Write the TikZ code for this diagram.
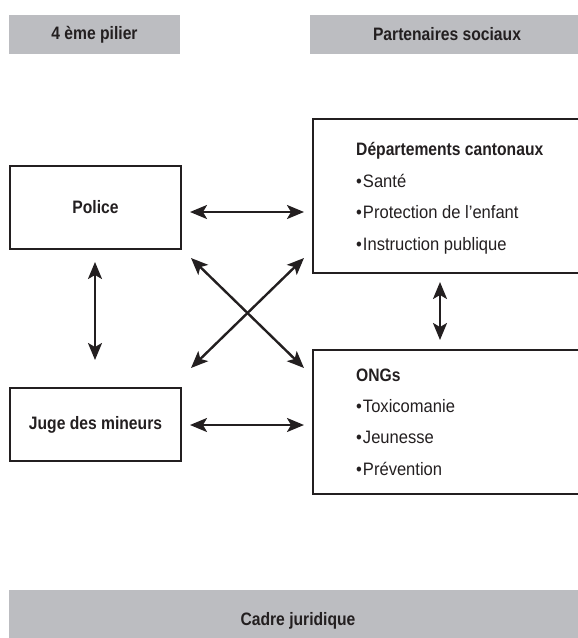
\documentclass[tikz,border=0pt]{standalone}
\usepackage{fontspec}
\setmainfont[FakeStretch=0.87]{Liberation Sans}
\newfontfamily\itemfont[FakeStretch=0.92]{Liberation Sans}
\usetikzlibrary{arrows.meta}
\definecolor{hdrgray}{RGB}{188,189,193}
\definecolor{ink}{RGB}{35,31,32}
\tikzset{
  hdr/.style={fill=hdrgray, draw=none, inner sep=0pt, text=ink, font=\fontsize{18}{20}\selectfont\bfseries},
  framebox/.style={draw=ink, line width=2.6pt, inner sep=0pt, text=ink, font=\fontsize{18}{20}\selectfont\bfseries},
  ttl/.style={anchor=base west, inner sep=0pt, text=ink, font=\fontsize{18}{20}\selectfont\bfseries},
  itm/.style={anchor=base west, inner sep=0pt, text=ink, font=\fontsize{18}{20}\selectfont\itemfont},
  tip/.style={Stealth[length=17pt,width=14pt,inset=4pt]},
  dbl/.style={draw=ink, line width=2.4pt, {Stealth[length=17pt,width=14pt,inset=4pt]}-{Stealth[length=17pt,width=14pt,inset=4pt]}}
}
\begin{document}
\begin{tikzpicture}[x=1pt,y=-1pt]
\useasboundingbox (0,0) rectangle (578,638);
% headers
\node[hdr, minimum width=171pt, minimum height=39pt] (pilier) at (94.5,34.5) {4 ème pilier};
\node[hdr, minimum width=274pt, minimum height=39pt] (partenaires) at (447,34.5) {Partenaires sociaux};
\node[hdr, minimum width=578pt, minimum height=62pt] (cadre) at (298,621) {Cadre juridique};
% left boxes
\node[framebox, minimum width=171pt, minimum height=83pt] (police) at (95.5,207.5) {Police};
\node[framebox, minimum width=171pt, minimum height=73pt] (juge) at (95.5,424.5) {Juge des mineurs};
% right boxes
\node[framebox, minimum width=307pt, minimum height=154pt] (dept) at (466.5,196) {};
\node[framebox, minimum width=307pt, minimum height=144pt] (ong) at (466.5,422) {};
% texts of right boxes
\node[ttl] (deptT) at (356,155) {Départements cantonaux};
\node[itm] (d1) at (356,187) {•\kern1pt Santé};
\node[itm] (d2) at (356,218) {•\kern1pt Protection de l’enfant};
\node[itm] (d3) at (356,250) {•\kern1pt Instruction publique};
\node[ttl] (ongT) at (356,381) {ONGs};
\node[itm] (o1) at (356,412) {•\kern1pt Toxicomanie};
\node[itm] (o2) at (356,443) {•\kern1pt Jeunesse};
\node[itm] (o3) at (356,475) {•\kern1pt Prévention};
% arrow end points
\coordinate (hA) at (190,212);
\coordinate (hB) at (304,212);
\coordinate (bA) at (190,425);
\coordinate (bB) at (304,425);
\coordinate (xTL) at (191,258);
\coordinate (xBR) at (304,368);
\coordinate (xTR) at (304,258);
\coordinate (xBL) at (191,368);
\coordinate (vA) at (95,262);
\coordinate (vB) at (95,360);
\coordinate (rA) at (440,282);
\coordinate (rB) at (440,340);
% arrows
\draw[dbl] (hA) -- (hB);
\draw[dbl] (bA) -- (bB);
\draw[dbl] (xTL) -- (xBR);
\draw[dbl] (xTR) -- (xBL);
\draw[dbl] (vA) -- (vB);
\draw[dbl] (rA) -- (rB);
\end{tikzpicture}
\end{document}
